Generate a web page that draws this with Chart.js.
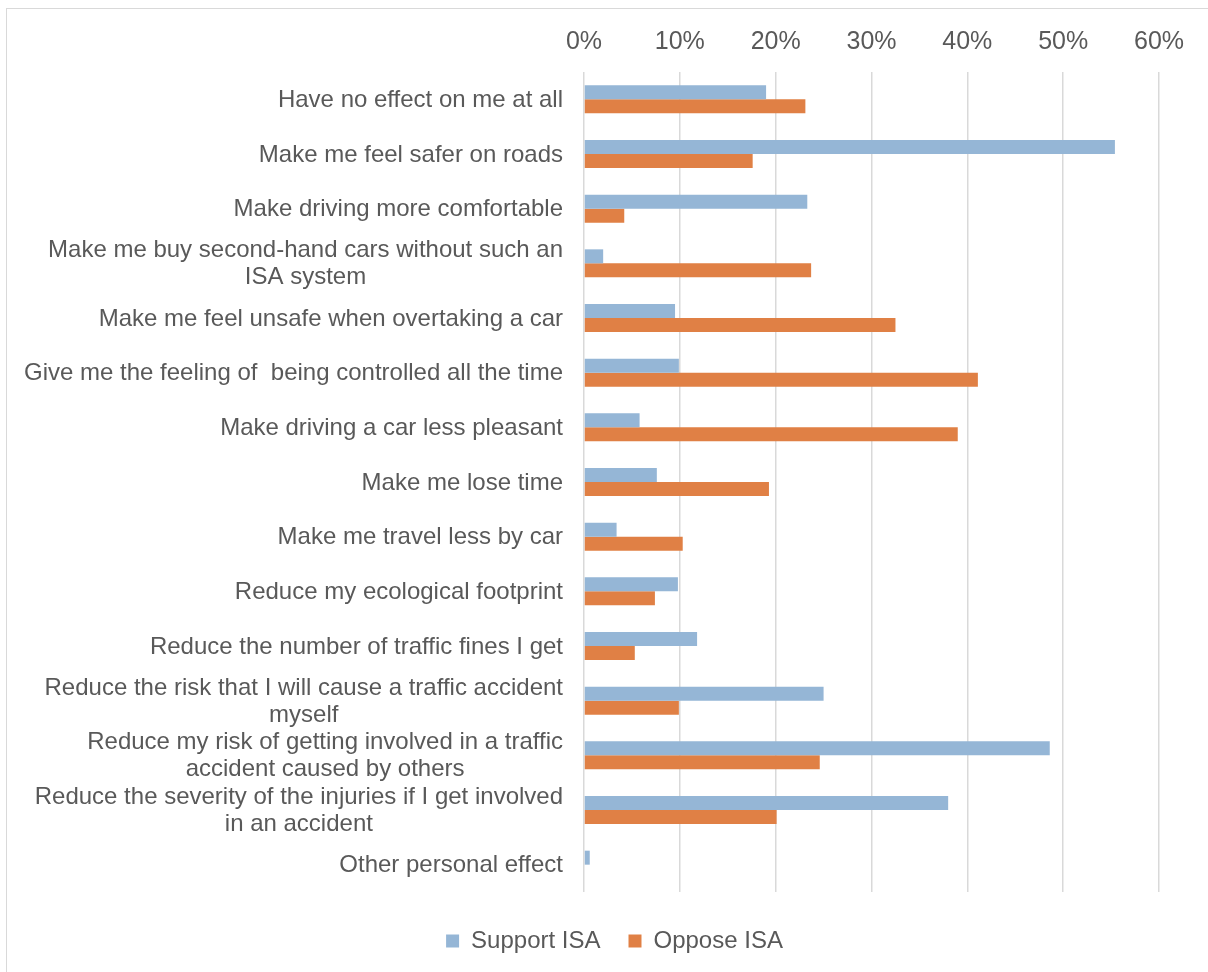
<!DOCTYPE html>
<html>
<head>
<meta charset="utf-8">
<script src="https://cdn.jsdelivr.net/npm/chart.js@4.4.1/dist/chart.umd.min.js"></script>
<style>
  html, body { margin: 0; padding: 0; background: #fff; overflow: hidden; }
  #frame { position: absolute; left: 6px; top: 8px; width: 1300px; height: 1100px; border: 1.5px solid #d9d9d9; }
  #wrap { position: absolute; left: 0; top: 0; width: 1208px; height: 972px; }
</style>
</head>
<body>
<div id="frame"></div>
<div id="wrap"><canvas id="chart"></canvas></div>
<script>
// category labels, one array of lines per category (wrapped as in the original)
const categories = [
  ["Have no effect on me at all"],
  ["Make me feel safer on roads"],
  ["Make driving more comfortable"],
  ["Make me buy second-hand cars without such an", "ISA system"],
  ["Make me feel unsafe when overtaking a car"],
  ["Give me the feeling of  being controlled all the time"],
  ["Make driving a car less pleasant"],
  ["Make me lose time"],
  ["Make me travel less by car"],
  ["Reduce my ecological footprint"],
  ["Reduce the number of traffic fines I get"],
  ["Reduce the risk that I will cause a traffic accident", "myself"],
  ["Reduce my risk of getting involved in a traffic", "accident caused by others"],
  ["Reduce the severity of the injuries if I get involved", "in an accident"],
  ["Other personal effect"]
];

const seriesNames = ["Support ISA", "Oppose ISA"];

// percent of respondents
const supportISA = [19.0, 55.4, 23.3, 2.0, 9.5, 9.9, 5.8, 7.6, 3.4, 9.8, 11.8, 25.0, 48.6, 38.0, 0.6];
const opposeISA = [23.1, 17.6, 4.2, 23.7, 32.5, 41.1, 39.0, 19.3, 10.3, 7.4, 5.3, 9.9, 24.6, 20.1, 0];

const axisMin = 0;
const axisMax = 60;
const axisStep = 10;

const textColor = "#595959";
const fontFamily = "'Liberation Sans', Arial, sans-serif";

// draws the category labels: block right aligned, lines centred on each other
const categoryLabels = {
  id: "categoryLabels",
  afterDraw(chart) {
    const { ctx } = chart;
    const yScale = chart.scales.y;
    const lineH = 27;
    const right = chart.chartArea.left - 21;
    ctx.save();
    ctx.font = "24px " + fontFamily;
    ctx.fillStyle = textColor;
    ctx.textAlign = "center";
    ctx.textBaseline = "middle";
    categories.forEach((lines, i) => {
      const yc = yScale.getPixelForValue(i);
      const w = Math.max(...lines.map((l) => ctx.measureText(l).width));
      const cx = right - w / 2;
      lines.forEach((line, j) => {
        ctx.fillText(line, cx, yc + (j - (lines.length - 1) / 2) * lineH + 1);
      });
    });
    ctx.restore();
  },
};

const ctx = document.getElementById("chart").getContext("2d");

new Chart(ctx, {
  type: "bar",
  data: {
    labels: categories.map((l) => l.join(" ")),
    datasets: [
      {
        label: seriesNames[0],
        data: supportISA,
        backgroundColor: "#95b6d6",
      },
      {
        label: seriesNames[1],
        data: opposeISA,
        backgroundColor: "#e08045",
      },
    ],
  },
  options: {
    indexAxis: "y",
    responsive: true,
    maintainAspectRatio: false,
    animation: false,
    categoryPercentage: 0.512,
    barPercentage: 1.0,
    layout: {
      padding: { left: 70, right: 49, top: 0, bottom: 9 },
    },
    scales: {
      x: {
        position: "top",
        min: axisMin,
        max: axisMax,
        afterFit: (scale) => {
          scale.height = 72;
        },
        ticks: {
          stepSize: axisStep,
          padding: 15,
          color: textColor,
          font: { family: fontFamily, size: 25 },
          callback: (v) => v + "%",
        },
        grid: {
          color: "#d9d9d9",
          lineWidth: 1.5,
          drawTicks: false,
        },
        border: { display: false },
      },
      y: {
        afterFit: (scale) => {
          scale.width = 514;
        },
        ticks: { display: false },
        grid: { display: false },
        border: { display: false },
      },
    },
    plugins: {
      tooltip: { enabled: false },
      legend: {
        position: "bottom",
        // empty title only used as a spacer between plot and legend
        title: {
          display: true,
          text: "",
          font: { size: 5 },
          padding: { top: 0, bottom: 3 },
        },
        labels: {
          boxWidth: 13,
          boxHeight: 13,
          padding: 28,
          color: textColor,
          font: { family: fontFamily, size: 24 },
        },
      },
    },
  },
  plugins: [categoryLabels],
});
</script>
</body>
</html>
